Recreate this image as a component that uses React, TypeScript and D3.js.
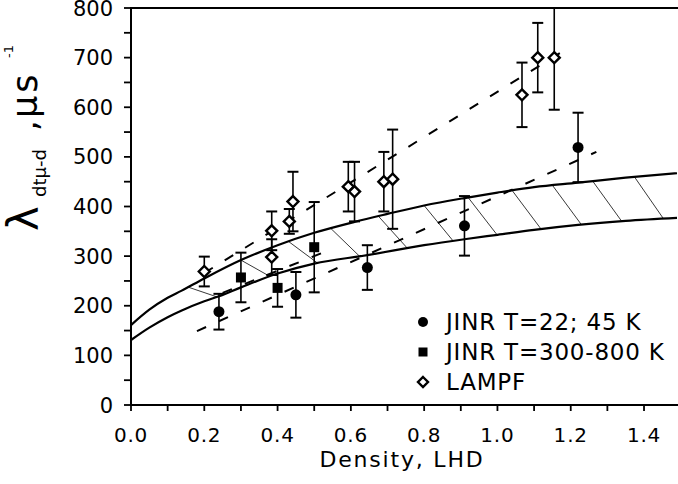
import React from "react";
import * as d3 from "d3";

// ---- data ----
const jinrColdX = [0.24, 0.45, 0.645, 0.91, 1.22];
const jinrColdY = [188, 222, 277, 361, 519];
const jinrColdErr = [36, 46, 45, 60, 70];

const jinrHotX = [0.3, 0.4, 0.5];
const jinrHotY = [257, 236, 318];
const jinrHotErr = [50, 38, 91];

const lampfX = [0.2, 0.384, 0.384, 0.432, 0.442, 0.593, 0.61, 0.69, 0.714, 1.067, 1.11, 1.155];
const lampfY = [269, 298, 351, 370, 410, 440, 430, 450, 455, 625, 700, 700];
const lampfErr = [30, 36, 39, 25, 60, 50, 60, 60, 100, 65, 70, 105];

const upperX = [0, 0.05, 0.1, 0.137, 0.2, 0.3, 0.4, 0.5, 0.61, 0.7, 0.8, 0.91, 1.0, 1.1, 1.22, 1.35, 1.49];
const upperY = [161, 192, 216, 230, 255, 292, 322, 347, 369, 385, 402, 417, 428, 439, 448, 458, 467];
const lowerX = [0, 0.05, 0.1, 0.137, 0.2, 0.24, 0.3, 0.4, 0.5, 0.645, 0.8, 0.91, 1.0, 1.1, 1.22, 1.35, 1.49];
const lowerY = [131, 156, 177, 190, 209, 219, 237, 265, 285, 302, 322, 334, 343, 353, 363, 371, 377];

const hatchX = [0.156, 0.3, 0.43, 0.545, 0.675, 0.8, 0.92, 1.04, 1.15, 1.26, 1.374];

// dashed fit lines: [x0, y0, x1, y1]
const fitLampf = [0.2, 266, 1.19, 718];
const fitJinrCold = [0.18, 149, 1.27, 510];
const fitJinrHot = [0.25, 226, 0.52, 306];

const xTicks = [0, 0.2, 0.4, 0.6, 0.8, 1.0, 1.2, 1.4];
const xMinor = [0.1, 0.3, 0.5, 0.7, 0.9, 1.1, 1.3];
const yTicks = [0, 100, 200, 300, 400, 500, 600, 700, 800];
const yMinor = [50, 150, 250, 350, 450, 550, 650, 750];

const legendLabels = ["JINR T=22; 45 K", "JINR T=300-800 K", "LAMPF"];

export default function App() {
  const W = 678, H = 484;
  const x = d3.scaleLinear().domain([0, 1.49]).range([131, 677]);
  const y = d3.scaleLinear().domain([0, 800]).range([405, 8]);

  const line = d3.line<[number, number]>().x(d => x(d[0])).y(d => y(d[1])).curve(d3.curveMonotoneX);
  const upperPts = upperX.map((v, i) => [v, upperY[i]] as [number, number]);
  const lowerPts = lowerX.map((v, i) => [v, lowerY[i]] as [number, number]);
  const interp = (xs: number[], ys: number[]) => d3.scaleLinear().domain(xs).range(ys).clamp(true);
  const uF = interp(upperX, upperY);
  const lF = interp(lowerX, lowerY);
  const dx = 0.079;

  const font = "DejaVu Sans, sans-serif";

  const errBar = (cx: number, cy: number, e: number, key: string) => {
    const top = Math.min(800, cy + e);
    const bot = cy - e;
    return (
      <g key={key} stroke="#000">
        <line x1={x(cx)} x2={x(cx)} y1={y(top)} y2={y(bot)} strokeWidth={1.6} />
        {cy + e <= 800 && <line x1={x(cx) - 5.5} x2={x(cx) + 5.5} y1={y(top)} y2={y(top)} strokeWidth={2} />}
        <line x1={x(cx) - 5.5} x2={x(cx) + 5.5} y1={y(bot)} y2={y(bot)} strokeWidth={2} />
      </g>
    );
  };

  const diamond = (cx: number, cy: number, s = 5.5) =>
    `M${cx},${cy - s}L${cx + s},${cy}L${cx},${cy + s}L${cx - s},${cy}Z`;

  const fit = (f: number[], k: string) => (
    <line key={k} x1={x(f[0])} y1={y(f[1])} x2={x(f[2])} y2={y(f[3])}
      stroke="#000" strokeWidth={2} strokeDasharray="10,14" />
  );

  return (
    <svg width={W} height={H} style={{ display: "block", position: "absolute", left: 0, top: 0, background: "#fff" }}>
      <rect width={W} height={H} fill="#fff" />
      {/* band */}
      {hatchX.map((hx, i) => (
        <line key={"h" + i} x1={x(hx)} y1={y(uF(hx))} x2={x(hx + dx)} y2={y(lF(hx + dx))}
          stroke="#222" strokeWidth={0.9} />
      ))}
      <path d={line(upperPts) || ""} fill="none" stroke="#000" strokeWidth={2.2} />
      <path d={line(lowerPts) || ""} fill="none" stroke="#000" strokeWidth={2.2} />

      {/* dashed fits */}
      {fit(fitLampf, "fa")}
      {fit(fitJinrCold, "fb")}
      {fit(fitJinrHot, "fc")}

      {/* error bars */}
      {jinrColdX.map((v, i) => errBar(v, jinrColdY[i], jinrColdErr[i], "ec" + i))}
      {jinrHotX.map((v, i) => errBar(v, jinrHotY[i], jinrHotErr[i], "eh" + i))}
      {lampfX.map((v, i) => errBar(v, lampfY[i], lampfErr[i], "el" + i))}

      {/* markers */}
      {jinrColdX.map((v, i) => (
        <circle key={"c" + i} cx={x(v)} cy={y(jinrColdY[i])} r={5.5} fill="#000" />
      ))}
      {jinrHotX.map((v, i) => (
        <rect key={"s" + i} x={x(v) - 5} y={y(jinrHotY[i]) - 5} width={10} height={10} fill="#000" />
      ))}
      {lampfX.map((v, i) => (
        <path key={"d" + i} d={diamond(x(v), y(lampfY[i]))} fill="#fff" stroke="#000" strokeWidth={2.4} />
      ))}

      {/* axes */}
      <line x1={x(0)} x2={W} y1={y(0)} y2={y(0)} stroke="#000" strokeWidth={2} />
      <line x1={x(0)} x2={W} y1={y(800)} y2={y(800)} stroke="#000" strokeWidth={2} />
      <line x1={x(0)} x2={x(0)} y1={y(0) + 1} y2={y(800) - 1} stroke="#000" strokeWidth={2} />
      {[...xTicks, ...xMinor].map((t, i) => (
        <line key={"xt" + i} x1={x(t)} x2={x(t)} y1={y(0)} y2={y(0) + 6} stroke="#000" strokeWidth={1.8} />
      ))}
      {[...yTicks, ...yMinor].map((t, i) => (
        <line key={"yt" + i} x1={x(0) - 7} x2={x(0)} y1={y(t)} y2={y(t)} stroke="#000" strokeWidth={1.8} />
      ))}
      {xTicks.map((t, i) => (
        <text key={"xl" + i} x={x(t)} y={442} textAnchor="middle" fontFamily={font} fontSize={20} letterSpacing={0.8}>
          {t.toFixed(1)}
        </text>
      ))}
      {yTicks.map((t, i) => (
        <text key={"yl" + i} x={113} y={y(t) + 7.5} textAnchor="end" fontFamily={font} fontSize={21}>
          {t}
        </text>
      ))}
      <text x={402} y={467} textAnchor="middle" fontFamily={font} fontSize={22} letterSpacing={1.8}>
        Density, LHD
      </text>

      {/* y label */}
      <text transform="translate(38,231) rotate(-90)" fontFamily={font} fontSize={42}>λ</text>
      <text transform="translate(46,197) rotate(-90)" fontFamily={font} fontSize={18}>dtμ-d</text>
      <text transform="translate(37,131) rotate(-90)" fontFamily={font} fontSize={34}>,</text>
      <text transform="translate(37,118) rotate(-90)" fontFamily={font} fontSize={35} letterSpacing={3}>μs</text>
      <text transform="translate(13,58) rotate(-90)" fontFamily={font} fontSize={13}>-1</text>

      {/* legend */}
      {legendLabels.map((lab, i) => {
        const ly = 322 + i * 30;
        return (
          <g key={"lg" + i}>
            {i === 0 && <circle cx={423} cy={ly} r={5} fill="#000" />}
            {i === 1 && <rect x={418.5} y={ly - 4.5} width={9} height={9} fill="#000" />}
            {i === 2 && <path d={diamond(423, ly, 5)} fill="#fff" stroke="#000" strokeWidth={2.4} />}
            <text x={446} y={ly + 8} fontFamily={font} fontSize={23} letterSpacing={0.8}>{lab}</text>
          </g>
        );
      })}
    </svg>
  );
}
